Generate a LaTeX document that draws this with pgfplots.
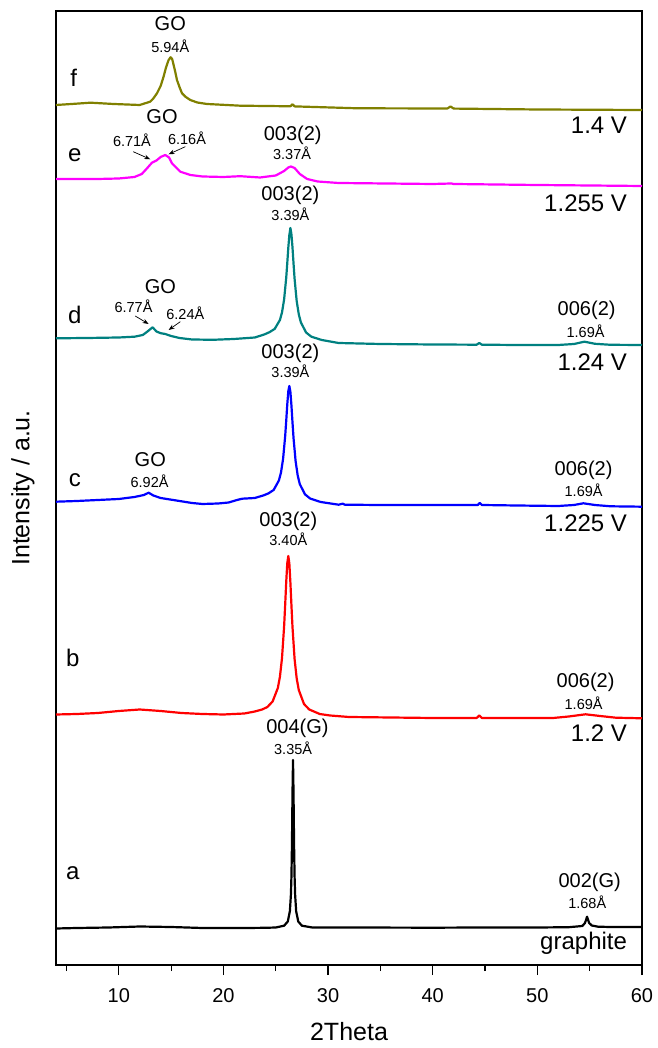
\documentclass[border=0pt]{standalone}
\usepackage{fontspec}
\setmainfont{Liberation Sans}
\usepackage{pgfplots}
\pgfplotsset{compat=1.18}
\usetikzlibrary{arrows.meta}
\newcommand{\fsL}{\fontsize{24bp}{28bp}\selectfont}
\newcommand{\fsM}{\fontsize{20bp}{24bp}\selectfont}
\newcommand{\fsS}{\fontsize{14.5bp}{17bp}\selectfont}
\definecolor{cf}{RGB}{128,128,0}
\definecolor{ce}{RGB}{255,0,255}
\definecolor{cd}{RGB}{0,128,128}
\definecolor{cc}{RGB}{0,0,255}
\definecolor{cb}{RGB}{255,0,0}
\begin{document}
\begin{tikzpicture}
\begin{axis}[name=ax, scale only axis, width=586bp, height=954bp,
  xmin=4, xmax=60, ymin=0, ymax=954,
  xtick={10,20,...,60}, minor xtick={5,15,...,55}, ytick=\empty,
  xtick pos=bottom, tick align=outside,
  major tick length=10bp, minor tick length=6bp,
  axis line style={line width=1.2bp},
  every tick/.style={black, line width=1.2bp},
  tick label style={font=\fsM},
  xticklabel style={yshift=-10bp},
  /pgf/number format/assume math mode=true,
  xlabel={2Theta}, ylabel={Intensity / a.u.},
  label style={font=\fontsize{25bp}{30bp}\selectfont, inner sep=0pt},
  xlabel style={at={(axis description cs:0.5,0)}, anchor=center, yshift=-67bp},
  ylabel style={at={(axis description cs:0,0.5)}, anchor=center, yshift=33bp},
  clip=false,
  every axis plot/.append style={line width=2.2bp, line join=round}]

% a graphite
\addplot[black] coordinates {(4,36.5)(6,37)(9,37.5)(12,38.5)(15,38)(18,37)(22,37)(24,37.2)(25,37.5)(25.8,39.3)(26.15,43.5)(26.35,53.8)(26.45,70.6)(26.5,88.7)(26.55,121)(26.6,171.4)(26.65,205)(26.7,171.4)(26.75,121)(26.8,88.7)(26.85,70.6)(26.95,53.8)(27.15,43.5)(27.5,39.3)(28.5,37.5)(32,37.5)(40,37.3)(44.5,37.5)(50,37.5)(53,37.8)(54.3,39)(54.55,42)(54.65,45)(54.75,48.3)(54.85,45)(54.95,42)(55.2,39.5)(55.8,38.3)(57,38)(60,38)};

% b 1.2 V
\addplot[cb] coordinates {(4,250.5)(6,251)(8,252)(10,254)(12,255.5)(14,254)(16,252)(18,251)(20,250.5)(22,251.5)(23,253.5)(23.7,255.5)(24.2,258)(24.7,263.5)(25.2,277)(25.4,288.3)(25.6,307.2)(25.8,338.8)(25.9,360)(26.0,382.8)(26.1,401.6)(26.2,409)(26.3,401.4)(26.4,382.4)(26.5,359.5)(26.6,338)(26.8,306)(27.0,286.7)(27.2,275)(27.7,261)(28.2,255.5)(29.2,251)(30.2,249.5)(32,248)(36,247.5)(40,247)(44.2,247)(44.45,249.5)(44.7,247)(48,247)(51.5,247)(53,248.5)(54.6,250.7)(56,249)(57.5,247.3)(60,246.7)};

% c 1.225 V
\addplot[cc] coordinates {(4,463.3)(6,464)(8,465)(10,466)(11.5,468)(12.4,470)(12.85,472.3)(13.3,469.5)(14,467)(15.5,464.5)(17,462)(18,461)(19.5,461.5)(20.5,462.5)(21.3,465)(21.8,466.3)(23,467)(23.8,469.5)(24.3,471.6)(24.8,475)(25.3,484.5)(25.5,492.4)(25.7,506)(25.9,528.8)(26.0,544)(26.1,560.4)(26.2,573.8)(26.3,579)(26.4,573.2)(26.5,559.4)(26.6,542.6)(26.7,526.9)(26.9,503.6)(27.1,489.4)(27.3,480.8)(27.8,470.6)(28.3,466.4)(29.3,463)(31,460.3)(31.4,461.3)(31.6,460.3)(35,460)(40,460)(44.3,460)(44.5,462)(44.7,460)(48,459.5)(52,459)(53.5,460)(54.4,461.7)(55.5,460)(57,458.7)(60,458.3)};

% d 1.24 V
\addplot[cd] coordinates {(4,626.7)(7,627)(10,627.5)(11.5,628.3)(12.3,630)(12.8,634)(13.23,637.7)(13.6,633.5)(14,631.8)(14.44,631)(15,629)(15.8,627)(17,625.5)(19,625.2)(21,626)(23,627.5)(23.9,630.5)(24.4,632.8)(24.9,636.1)(25.4,645)(25.6,652.7)(25.8,665.6)(26.0,687.2)(26.1,701.7)(26.2,717.3)(26.3,730)(26.4,737)(26.5,730.6)(26.6,717.6)(26.7,701.4)(26.8,686.2)(27.0,664)(27.2,650.8)(27.4,642.6)(27.9,632.5)(28.4,628.3)(29.4,625)(31,622)(35,621)(40,620.5)(44.2,620.3)(44.45,622)(44.7,620.3)(48,620)(52,620)(53.5,621)(54.5,623.3)(55.5,621.2)(57,620.2)(60,620)};

% e 1.255 V
\addplot[ce] coordinates {(4,786)(8,786)(10,786.5)(11.5,788)(12.2,791)(12.7,796.7)(13.17,802.3)(13.6,804.5)(14.0,808)(14.44,810)(14.8,807.5)(15.08,801.7)(15.88,793.3)(16.83,790)(18,788.5)(20,788)(21.6,788.8)(23.5,787.5)(25.0,789.5)(25.8,794)(26.2,797.5)(26.45,798.5)(26.8,797)(27.3,791)(28,786)(29,783.5)(31,782)(40,781)(41.8,781.5)(42,781)(50,780)(60,779)};

% f 1.4 V
\addplot[cf] coordinates {(4,860)(5.5,861)(7.3,862.3)(9.5,861)(12,860)(13.0,863.3)(13.3,866.5)(13.65,871.7)(14.0,879)(14.28,888.3)(14.5,897)(14.76,905)(14.95,907.7)(15.1,906)(15.24,900)(15.4,893)(15.56,885)(15.8,878)(16.04,871.7)(16.4,868)(16.83,865)(17.5,862.5)(18.43,861)(21.6,859.3)(26.4,858.7)(26.6,860.7)(26.8,858.6)(32.8,856.7)(41.4,856.5)(41.7,858.5)(42.0,856.4)(50,855.5)(60,855)};

% curve letters
\node[font=\fsL] at (axis cs:5.7,887) {f};
\node[font=\fsL] at (axis cs:5.8,810) {e};
\node[font=\fsL] at (axis cs:5.8,650) {d};
\node[font=\fsL] at (axis cs:5.8,485) {c};
\node[font=\fsL] at (axis cs:5.6,307) {b};
\node[font=\fsL] at (axis cs:5.6,92) {a};

% voltages
\node[font=\fsL, anchor=east] at (axis cs:58.9,840) {1.4 V};
\node[font=\fsL, anchor=east] at (axis cs:58.9,762) {1.255 V};
\node[font=\fsL, anchor=east] at (axis cs:58.9,603) {1.24 V};
\node[font=\fsL, anchor=east] at (axis cs:58.9,442) {1.225 V};
\node[font=\fsL, anchor=east] at (axis cs:58.9,232) {1.2 V};
\node[font=\fsL, anchor=east] at (axis cs:58.9,22) {graphite};

% f labels
\node[font=\fsM] at (axis cs:14.92,941) {GO};
\node[font=\fsS] at (axis cs:14.92,919) {5.94Å};

% e labels
\node[font=\fsM] at (axis cs:14.13,848) {GO};
\node[font=\fsS] at (axis cs:11.26,825) {6.71Å};
\node[font=\fsS] at (axis cs:16.52,827) {6.16Å};
\draw[-{Stealth[length=6bp,width=4.5bp]}, line width=0.7bp] (axis cs:11.38,813.3) -- (axis cs:13.01,805.7);
\draw[-{Stealth[length=6bp,width=4.5bp]}, line width=0.7bp] (axis cs:16.36,818.3) -- (axis cs:14.76,810.7);
\node[font=\fsM] at (axis cs:26.62,830) {003(2)};
\node[font=\fsS] at (axis cs:26.56,812) {3.37Å};

% d labels
\node[font=\fsM] at (axis cs:26.4,770) {003(2)};
\node[font=\fsS] at (axis cs:26.4,751) {3.39Å};
\node[font=\fsM] at (axis cs:13.97,678) {GO};
\node[font=\fsS] at (axis cs:11.41,659) {6.77Å};
\node[font=\fsS] at (axis cs:16.36,652) {6.24Å};
\draw[-{Stealth[length=6bp,width=4.5bp]}, line width=0.7bp] (axis cs:11.57,649) -- (axis cs:12.85,641);
\draw[-{Stealth[length=6bp,width=4.5bp]}, line width=0.7bp] (axis cs:15.88,643.3) -- (axis cs:14.76,635);
\node[font=\fsM] at (axis cs:54.71,655) {006(2)};
\node[font=\fsS] at (axis cs:54.61,634) {1.69Å};

% c labels
\node[font=\fsM] at (axis cs:26.4,612) {003(2)};
\node[font=\fsS] at (axis cs:26.4,594) {3.39Å};
\node[font=\fsM] at (axis cs:13.01,505) {GO};
\node[font=\fsS] at (axis cs:12.94,484) {6.92Å};
\node[font=\fsM] at (axis cs:54.42,495) {006(2)};
\node[font=\fsS] at (axis cs:54.42,475) {1.69Å};

% b labels
\node[font=\fsM] at (axis cs:26.2,444) {003(2)};
\node[font=\fsS] at (axis cs:26.2,426) {3.40Å};
\node[font=\fsM] at (axis cs:54.61,283) {006(2)};
\node[font=\fsS] at (axis cs:54.42,262) {1.69Å};

% a labels
\node[font=\fsM] at (axis cs:27.07,237) {004(G)};
\node[font=\fsS] at (axis cs:26.66,217) {3.35Å};
\node[font=\fsM] at (axis cs:55.0,83) {002(G)};
\node[font=\fsS] at (axis cs:54.77,63) {1.68Å};
\end{axis}
\pgfresetboundingbox
\path[use as bounding box] ([xshift=-56bp,yshift=-83bp]ax.south west) rectangle ([xshift=16bp,yshift=11bp]ax.north east);
\end{tikzpicture}
\end{document}
